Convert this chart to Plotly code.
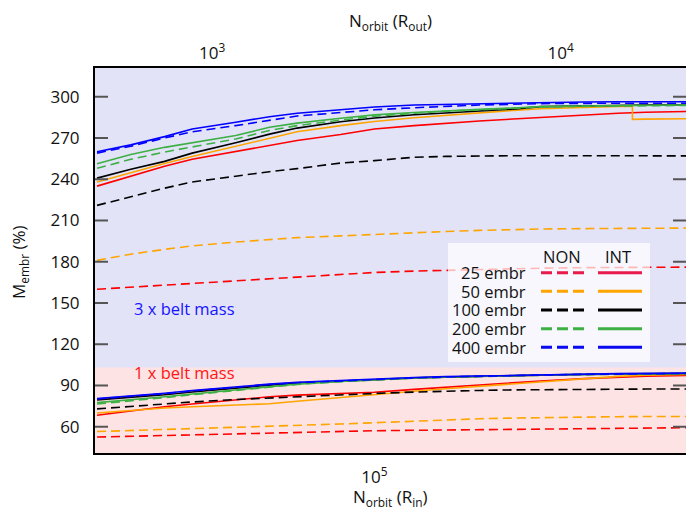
import math
import plotly.graph_objects as go

# ---------------- data ----------------
N_EMBR = [25, 50, 100, 200, 400]
LEGEND_LABELS = ["25 embr", "50 embr", "100 embr", "200 embr", "400 embr"]

X = [1.6e4, 2e4, 2.5e4, 3e4, 4e4, 5e4, 6e4, 8e4, 1e5, 1.3e5, 1.6e5, 2e5,
     2.5e5, 3e5, 4e5, 5e5, 6e5, 8e5]

# 3 x belt mass
NON3_25 = [160, 161.5, 163, 164.5, 166.5, 168, 169.3, 171, 172.2, 173.2, 173.8, 174.4, 174.9, 175.3, 175.7, 175.9, 176, 176.1]
INT3_25 = [235, 242, 249.5, 254.5, 260, 264.5, 268.2, 272.5, 276.5, 279, 280.8, 282.3, 283.8, 285, 286.8, 288, 288.7, 289.3]
NON3_50 = [181, 185.5, 189, 191.5, 194.3, 196, 197.5, 198.8, 200, 201.2, 202, 202.8, 203.4, 203.8, 204.1, 204.3, 204.4, 204.5]
X_INT3_50 = X[:16] + [5.5e5, 5.5e5, 6e5, 8e5]
INT3_50 = [238, 245, 251.5, 256.5, 264, 270, 274.5, 279, 282, 284.7, 286.5, 288.5, 290.1, 291.3, 292.5, 293, 293.2, 283.5, 283.7, 284]
NON3_100 = [221, 227.3, 233.5, 238, 242.5, 245.5, 247.7, 251.8, 253.5, 256, 256.6, 257, 257.1, 257.1, 257.1, 257.1, 257, 257]
INT3_100 = [240.8, 247.3, 253, 259, 266.5, 272.8, 277.2, 281.8, 284.5, 286.9, 288.2, 289.6, 291, 292.8, 293.5, 293.8, 294, 294]
NON3_200 = [248, 254.5, 259.8, 263.5, 269.3, 275.5, 279, 283, 285.8, 288, 289.5, 290.5, 291.5, 292.5, 293, 293.3, 293.5, 293.7]
INT3_200 = [251.3, 258, 263.2, 266.5, 271.8, 277.8, 280.8, 284.3, 286.8, 288.5, 289.8, 290.8, 291.8, 292.8, 293.3, 293.6, 293.8, 294]
NON3_400 = [259, 264, 270, 274.5, 279, 283, 286, 288.5, 290.5, 292, 293, 294, 294.5, 295, 295.2, 295.3, 295.3, 295.3]
INT3_400 = [260, 265, 271, 276.5, 281.5, 285.5, 288, 290.5, 292.5, 294, 294.5, 295, 295.5, 296, 296.2, 296.3, 296.3, 296.3]

# 1 x belt mass
NON1_25 = [52.5, 53.1, 53.7, 54.1, 54.8, 55.4, 55.9, 56.6, 57.1, 57.4, 57.6, 57.8, 58, 58.2, 58.5, 58.8, 59, 59.3]
INT1_25 = [68.3, 71.5, 74.5, 76.5, 79.5, 81.8, 83, 84.3, 85.1, 87.2, 88.8, 90.4, 92, 93.3, 95, 96.2, 96.8, 97.3]
NON1_50 = [56.5, 57.2, 57.9, 58.4, 59.3, 60, 60.8, 62, 62.9, 64.1, 65, 65.8, 66.3, 66.7, 67.1, 67.3, 67.4, 67.5]
INT1_50 = [70, 71.8, 73.6, 74.5, 75.7, 76.7, 78.5, 81.3, 83.6, 85.8, 87.6, 89.4, 90.8, 92.3, 94.8, 96.6, 97.4, 98]
NON1_100 = [73, 74.8, 76.6, 78, 79.8, 81, 82, 83.3, 84.2, 85.2, 85.9, 86.4, 86.8, 87, 87.2, 87.3, 87.4, 87.4]
INT1_100 = [79.5, 81.3, 83.3, 85.3, 88.3, 90.2, 91.6, 93.2, 94.3, 95.4, 96.1, 96.7, 97.1, 97.5, 98, 98.3, 98.5, 98.7]
NON1_200 = [76.5, 78.7, 81.2, 83.3, 86.6, 89, 90.8, 92.8, 94.1, 95.3, 96, 96.6, 97, 97.4, 97.9, 98.2, 98.4, 98.6]
INT1_200 = [77.5, 79.5, 81.8, 83.8, 87, 89.3, 91, 93, 94.3, 95.5, 96.2, 96.8, 97.2, 97.6, 98.1, 98.4, 98.6, 98.8]
NON1_400 = [80.2, 82, 84, 86, 88.9, 90.7, 92, 93.5, 94.5, 95.5, 96.2, 96.8, 97.2, 97.6, 98.1, 98.4, 98.6, 98.8]
INT1_400 = [80.5, 82.3, 84.3, 86.3, 89.2, 91, 92.3, 93.8, 94.8, 95.8, 96.5, 97, 97.4, 97.8, 98.3, 98.6, 98.8, 99]

Y_TICKS = [60, 90, 120, 150, 180, 210, 240, 270, 300]
X_BOTTOM_MAJOR = [1e5]
X_BOTTOM_MAJOR_TEXT = ["10<sup>5</sup>"]
X_BOTTOM_MINOR = [2e4, 3e4, 4e4, 5e4, 6e4, 7e4, 8e4, 9e4, 2e5, 3e5, 4e5, 5e5, 6e5, 7e5]
X_TOP_MAJOR = [1e3, 1e4]
X_TOP_MAJOR_TEXT = ["10<sup>3</sup>", "10<sup>4</sup>"]
X_TOP_MINOR = [500, 600, 700, 800, 900, 2e3, 3e3, 4e3, 5e3, 6e3, 7e3, 8e3, 9e3, 2e4]

BELT_SPLIT = 103
Y_RANGE = [40.9, 320.9]
X_RANGE_BOTTOM = [4.1983, 5.8941]
X_RANGE_TOP = [2.6637, 4.3595]

# ---------------- styles ----------------
FONT = "Open Sans"
LINE_COLORS = {25: "#ff0000", 50: "#ffa500", 100: "#000000", 200: "#3cb043", 400: "#0000ff"}
LEG_COLORS = {25: "#e8194b", 50: "#ffa500", 100: "#000000", 200: "#3cb043", 400: "#0a0af0"}
LAV = "#e3e3f8"
PINK = "#fde3e3"
DASH = "9px,5px"
MAJOR_LEN, MINOR_LEN = 13, 7

series = [
    (X, NON3_25, X, INT3_25, X, NON1_25, X, INT1_25),
    (X, NON3_50, X_INT3_50, INT3_50, X, NON1_50, X, INT1_50),
    (X, NON3_100, X, INT3_100, X, NON1_100, X, INT1_100),
    (X, NON3_200, X, INT3_200, X, NON1_200, X, INT1_200),
    (X, NON3_400, X, INT3_400, X, NON1_400, X, INT1_400),
]

fig = go.Figure()
for n, s in zip(N_EMBR, series):
    c = LINE_COLORS[n]
    xn3, yn3, xi3, yi3, xn1, yn1, xi1, yi1 = s
    for xx, yy, dash in [(xn3, yn3, DASH), (xn1, yn1, DASH), (xi3, yi3, "solid"), (xi1, yi1, "solid")]:
        fig.add_trace(go.Scatter(x=xx, y=yy, mode="lines",
                                 line=dict(color=c, width=1.6, dash=dash),
                                 showlegend=False, hoverinfo="skip"))

# empty trace to activate the top axis
fig.add_trace(go.Scatter(x=[], y=[], xaxis="x2", yaxis="y", showlegend=False, hoverinfo="skip"))

# pink lower band (upper band is the plot background)
fig.add_shape(type="rect", xref="paper", yref="y", x0=0, x1=1, y0=Y_RANGE[0], y1=BELT_SPLIT,
              fillcolor=PINK, line_width=0, layer="below")

# ---------------- geometry helpers ----------------
W, H = 686, 511
ML, MR, MT, MB = 95, 0, 68, 58
PW, PH = W - ML - MR, H - MT - MB


def px(xp):
    return (xp - ML) / PW


def py(yp):
    return (H - MB - yp) / PH


# ---------------- tick marks (inside, all four sides) ----------------
for v in Y_TICKS:
    for x0, x1 in [(0, MAJOR_LEN / PW), (1 - MAJOR_LEN / PW, 1)]:
        fig.add_shape(type="line", xref="paper", yref="y", x0=x0, x1=x1, y0=v, y1=v,
                      line=dict(color="#555", width=2), layer="above")
for axref, majors, minors, bottom in [("x", X_BOTTOM_MAJOR, X_BOTTOM_MINOR, True),
                                      ("x2", X_TOP_MAJOR, X_TOP_MINOR, False)]:
    for vals, ln, col, wd in [(majors, MAJOR_LEN, "#000", 2), (minors, MINOR_LEN, "#555", 1.5)]:
        for v in vals:
            lv = math.log10(v)
            y0, y1 = (0, ln / PH) if bottom else (1 - ln / PH, 1)
            fig.add_shape(type="line", xref=axref, yref="paper", x0=lv, x1=lv, y0=y0, y1=y1,
                          line=dict(color=col, width=wd), layer="above")

# ---------------- legend (custom two-column) ----------------
LF = dict(family=FONT, size=16.5, color="#111")
fig.add_shape(type="rect", xref="paper", yref="paper", x0=px(448), x1=px(650), y0=py(362), y1=py(243),
              fillcolor="rgba(255,255,255,0.72)", line_width=0, layer="above")
fig.add_annotation(x=px(562), y=py(256), xref="paper", yref="paper", text="NON", showarrow=False,
                   font=LF, xanchor="center", yanchor="middle")
fig.add_annotation(x=px(618), y=py(256), xref="paper", yref="paper", text="INT", showarrow=False,
                   font=LF, xanchor="center", yanchor="middle")
row_y = 272.7
for n, lab in zip(N_EMBR, LEGEND_LABELS):
    fig.add_annotation(x=px(528), y=py(row_y), xref="paper", yref="paper", text=lab, showarrow=False,
                       font=LF, xanchor="right", yanchor="middle")
    fig.add_shape(type="line", xref="paper", yref="paper", x0=px(541), x1=px(584), y0=py(row_y), y1=py(row_y),
                  line=dict(color=LEG_COLORS[n], width=3, dash="11px,5px"), layer="above")
    fig.add_shape(type="line", xref="paper", yref="paper", x0=px(598), x1=px(642), y0=py(row_y), y1=py(row_y),
                  line=dict(color=LEG_COLORS[n], width=3), layer="above")
    row_y += 18.65

# region labels
fig.add_annotation(x=4.3044, y=146.3, xref="x", yref="y", text="3 x belt mass", showarrow=False,
                   font=dict(family=FONT, size=16.5, color="#1515ff"), xanchor="left", yanchor="middle")
fig.add_annotation(x=4.3044, y=99.6, xref="x", yref="y", text="1 x belt mass", showarrow=False,
                   font=dict(family=FONT, size=16.5, color="#ff1515"), xanchor="left", yanchor="middle")

# axis titles
TF = dict(family=FONT, size=17, color="#111")
fig.add_annotation(x=0.5, y=py(21), xref="paper", yref="paper", text="N<sub>orbit</sub> (R<sub>out</sub>)",
                   showarrow=False, font=TF, xanchor="center", yanchor="middle")
fig.add_annotation(x=0.5, y=py(497), xref="paper", yref="paper", text="N<sub>orbit</sub> (R<sub>in</sub>)",
                   showarrow=False, font=TF, xanchor="center", yanchor="middle")
fig.add_annotation(x=px(19), y=py(262), xref="paper", yref="paper", text="M<sub>embr</sub> (%)",
                   showarrow=False, font=TF, textangle=-90, xanchor="center", yanchor="middle")

TICKF = dict(family=FONT, size=17, color="#111")
fig.update_layout(
    width=W, height=H,
    margin=dict(l=ML, r=MR, t=MT, b=MB),
    paper_bgcolor="white", plot_bgcolor=LAV,
    showlegend=False,
    xaxis=dict(type="log", range=X_RANGE_BOTTOM, tickmode="array", tickvals=X_BOTTOM_MAJOR,
               ticktext=X_BOTTOM_MAJOR_TEXT, ticks="", showline=True, linewidth=2, linecolor="#000",
               tickfont=TICKF, ticklabelstandoff=8, showgrid=False, zeroline=False),
    xaxis2=dict(type="log", range=X_RANGE_TOP, overlaying="x", side="top", anchor="y",
                tickmode="array", tickvals=X_TOP_MAJOR, ticktext=X_TOP_MAJOR_TEXT, ticks="",
                showline=True, linewidth=2, linecolor="#000", tickfont=TICKF, showgrid=False, zeroline=False),
    yaxis=dict(range=Y_RANGE, tickmode="array", tickvals=Y_TICKS, ticks="", showline=True, linewidth=2,
               linecolor="#000", tickfont=TICKF, ticklabelstandoff=10, showgrid=False, zeroline=False),
)

fig.write_html("out.html")
